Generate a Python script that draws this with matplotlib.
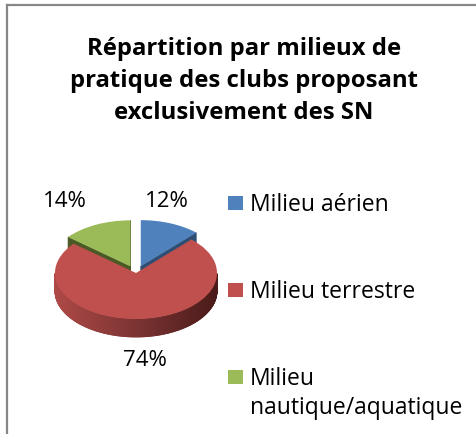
import numpy as np
import matplotlib.pyplot as plt
from matplotlib.patches import Polygon, Rectangle
from matplotlib.collections import PolyCollection
from matplotlib.lines import Line2D
from matplotlib.colors import LinearSegmentedColormap

plt.rcParams['font.family'] = ['Open Sans', 'DejaVu Sans']

# data
title = 'Répartition par milieux de\npratique des clubs proposant\nexclusivement des SN'
labels = ['Milieu aérien', 'Milieu terrestre', 'Milieu\nnautique/aquatique']
values = [12, 74, 14]
colors = ['#4F81BD', '#C0504D', '#9BBB59']
side_colors = ['#2F4E74', '#7C3433', '#4B5A25']
explode = [0.16, 0, 0.16]
# where Excel put the % labels (pie units)
pct_pos = [(0.38, 1.57), (0.11, -1.87), (-0.88, 1.57)]

W, H = 477, 435
fig = plt.figure(figsize=(W / 100, H / 100), dpi=100)

# pie geometry in pixels: centre, radii of the ellipse, thickness
cx, cy, rx, ry, depth = 136, 274, 81, 46, 18
xl, yl = 1.5, 2.2
ax = fig.add_axes([(cx - xl * rx) / W, (H - cy - yl * ry) / H,
                   2 * xl * rx / W, 2 * yl * ry / H])
wedges, _ = ax.pie(values, colors=colors, explode=explode, startangle=90,
                   counterclock=False, wedgeprops=dict(linewidth=0, zorder=3))
ax.set_aspect('auto')
ax.set_xlim(-xl, xl)
ax.set_ylim(-yl, yl)
ax.axis('off')
d = depth / ry

wall_cmap = LinearSegmentedColormap.from_list('wall', ['#AE4946', '#7C3433', '#4A1B1A'])

for w, sc in zip(wedges, side_colors):
    x0, y0 = w.center
    r = w.r
    t1, t2 = w.theta1, w.theta2
    # cut faces that look toward the viewer
    for t, n in ((t1, t1 - 90), (t2, t2 + 90)):
        if np.sin(np.radians(n)) < 0:
            px = x0 + r * np.cos(np.radians(t))
            py = y0 + r * np.sin(np.radians(t))
            ax.add_patch(Polygon([(x0, y0), (px, py), (px, py - d), (x0, y0 - d)],
                                 closed=True, fc=sc, ec=sc, lw=0.5, zorder=2))
    # outer wall, front half only, shaded left -> right
    a = np.radians(np.linspace(t1, t2, 400))
    a = a[np.sin(a) <= 0]
    if len(a) < 2:
        continue
    xs, ys = x0 + r * np.cos(a), y0 + r * np.sin(a)
    quads, cols = [], []
    for i in range(len(a) - 1):
        quads.append([(xs[i], ys[i]), (xs[i + 1], ys[i + 1]),
                      (xs[i + 1], ys[i + 1] - d), (xs[i], ys[i] - d)])
        cols.append(wall_cmap((np.cos((a[i] + a[i + 1]) / 2) + 1) / 2))
    ax.add_collection(PolyCollection(quads, facecolors=cols, edgecolors=cols,
                                     linewidths=0.6, zorder=1))

for v, (x, y) in zip(values, pct_pos):
    ax.text(x, y, f'{v}%', ha='center', va='center', fontsize=16, color='#000000')

# title
fig.text(244 / W, 1 - 81 / H, title, ha='center', va='center', fontsize=17.2,
         fontweight='bold', linespacing=1.42)

# legend, drawn by hand like Excel's
leg_y = [204, 291, 378]
for lab, col, y in zip(labels, colors, leg_y):
    fig.add_artist(Rectangle((228 / W, 1 - (y + 7) / H), 15 / W, 14 / H,
                             transform=fig.transFigure, fc=col, ec='none'))
    fig.text(250 / W, 1 - (y - 11) / H, lab, ha='left', va='top', fontsize=16.5,
             linespacing=1.3, transform=fig.transFigure)

# chart area border (left and top edges are the visible ones)
fig.add_artist(Line2D([7.5 / W, 7.5 / W], [0, 1 - 6 / H], color='#878787', lw=1.6))
fig.add_artist(Line2D([7.5 / W, 1], [1 - 6 / H, 1 - 6 / H], color='#878787', lw=1.6))

fig.savefig('out.png', dpi=100)
